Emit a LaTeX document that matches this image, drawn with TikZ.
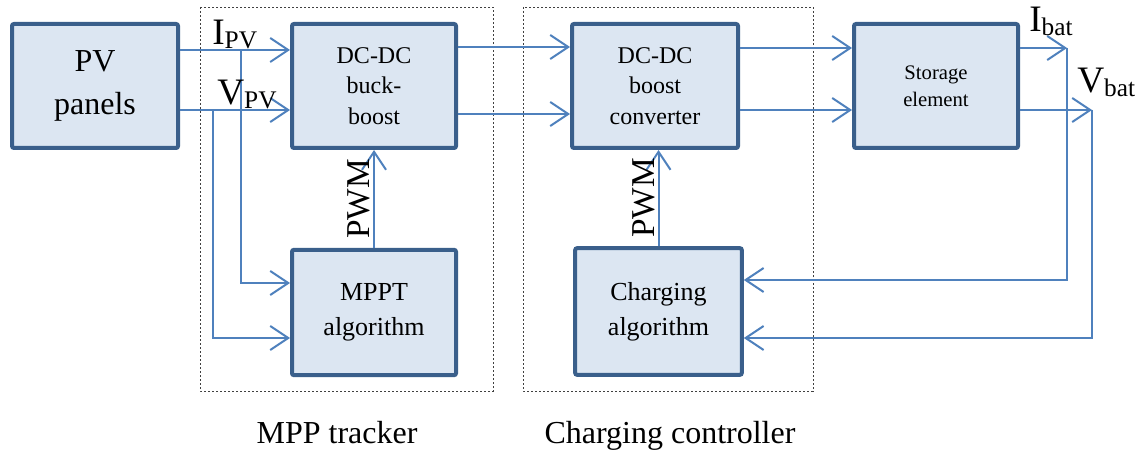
\documentclass[tikz,border=0pt]{standalone}
\usepackage{fontspec}
\setmainfont{Liberation Serif}
\usepackage{tikz}
\usetikzlibrary{arrows.meta, positioning, calc}
\definecolor{boxfill}{HTML}{DCE6F2}
\definecolor{boxborder}{HTML}{3A5F8B}
\definecolor{sigblue}{HTML}{4F81BD}
\definecolor{groupline}{HTML}{404040}
\newcommand{\signame}[2]{{\rmfamily\fontsize{28}{28}\selectfont #1\raisebox{-3pt}{\fontsize{19}{19}\selectfont #2}}}
\tikzset{
  block/.style={draw=boxborder, line width=3pt, fill=boxfill, rounded corners=1.5pt,
                align=center, inner sep=0pt},
  sig/.style={draw=sigblue, line width=1.5pt, -{Straight Barb[length=13.5pt, width=18pt]}},
  group/.style={draw=groupline, line width=0.7pt, dash pattern=on 1.8pt off 1.2pt},
  pwmlabel/.style={rotate=90, anchor=south, inner sep=2pt, font=\rmfamily\fontsize{25}{25}\selectfont},
}

\begin{document}
\begin{tikzpicture}[x=0.75pt, y=-0.75pt]
\useasboundingbox (0,0) rectangle (1141,452);

% dotted groups
\draw[group] (200,7) rectangle (493,391);
\draw[group] (523,7) rectangle (813,391);
\node[anchor=base, font=\rmfamily\fontsize{24}{28}\selectfont] (mpptitle) at (337,443) {MPP tracker};
\node[anchor=base, font=\rmfamily\fontsize{24}{28}\selectfont] (chgtitle) at (670,443) {Charging controller};

% blocks
\node[block, minimum width=124.5pt, minimum height=93pt, font=\rmfamily\fontsize{24}{32}\selectfont]
  (pv) at (95,86) {PV\\panels};
\node[block, minimum width=123pt, minimum height=93pt, font=\rmfamily\fontsize{18}{23}\selectfont]
  (buck) at (374,86) {DC-DC\\buck-\\boost};
\node[block, minimum width=124.5pt, minimum height=93pt, font=\rmfamily\fontsize{18}{23}\selectfont]
  (boost) at (655,86) {DC-DC\\boost\\converter};
\node[block, minimum width=123pt, minimum height=93pt, font=\rmfamily\fontsize{15.5}{20}\selectfont]
  (store) at (936,86) {Storage\\element};
\node[block, minimum width=123pt, minimum height=94pt, font=\rmfamily\fontsize{19.5}{26}\selectfont]
  (mppt) at (374,312.5) {MPPT\\algorithm};
\node[block, minimum width=125pt, minimum height=95pt, font=\rmfamily\fontsize{19.5}{26}\selectfont]
  (charge) at (658.5,311.5) {Charging\\algorithm};

% PV side
\coordinate (ipv) at (241,50);
\coordinate (vpv) at (213,110);
\draw[sig] (pv.east |- ipv) -- (buck.west |- ipv);
\draw[sig] (pv.east |- vpv) -- (buck.west |- vpv);
\draw[sig] (ipv) |- ($(mppt.west)+(0,-29.5)$);
\draw[sig] (vpv) |- ($(mppt.west)+(0,25.5)$);
\node[anchor=base west, inner sep=0pt] (lipv) at (212,45) {\signame{I}{PV}};
\node[anchor=base west, inner sep=0pt] (lvpv) at (217,105) {\signame{V}{PV}};

% power path
\draw[sig] ($(buck.east)+(0,-39)$) -- ($(boost.west)+(0,-39)$);
\draw[sig] ($(buck.east)+(0,28)$) -- ($(boost.west)+(0,28)$);
\draw[sig] ($(boost.east)+(0,-38)$) -- ($(store.west)+(0,-38)$);
\draw[sig] ($(boost.east)+(0,24)$) -- ($(store.west)+(0,24)$);

% PWM
\draw[sig] (mppt.north) -- (buck.south) node[pwmlabel, midway] (pwma) {PWM};
\draw[sig] (charge.north) -- (charge.north |- boost.south) node[pwmlabel, midway] (pwmb) {PWM};

% battery feedback
\coordinate (ibat) at (1067,48);
\coordinate (vbat) at (1092,110);
\draw[sig] (store.east |- ibat) -- (ibat);
\draw[sig] (store.east |- vbat) -- (vbat);
\draw[sig] (ibat) |- ($(charge.east)+(0,-31.5)$);
\draw[sig] (vbat) |- ($(charge.east)+(0,26.5)$);
\node[anchor=base west, inner sep=0pt] (libat) at (1029,32) {\signame{I}{bat}};
\node[anchor=base west, inner sep=0pt] (lvbat) at (1077,93) {\signame{V}{bat}};
\end{tikzpicture}
\end{document}
